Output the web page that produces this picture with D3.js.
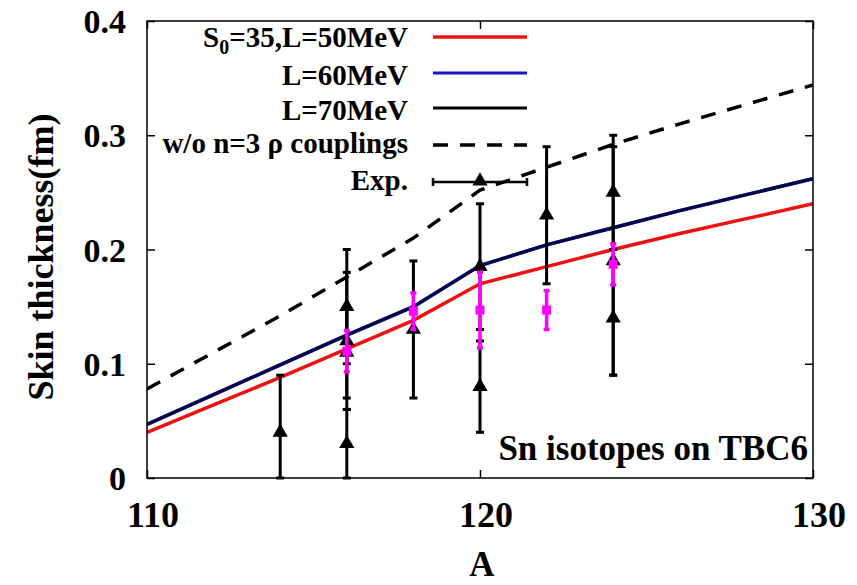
<!DOCTYPE html>
<html>
<head>
<meta charset="utf-8">
<script src="https://cdn.jsdelivr.net/npm/d3@7"></script>
<style>
  body { margin: 0; background: #fff; }
  text { font-family: "Liberation Serif", "Times New Roman", serif; font-weight: bold; }
</style>
</head>
<body>
<svg id="chart" width="857" height="585"></svg>
<script>
// model curves, A = mass number
var massA   = [110, 112, 114, 116, 118, 120, 122, 124, 126, 128, 130];
var l50     = [0.040, 0.064, 0.088, 0.113, 0.138, 0.170, 0.185, 0.200, 0.214, 0.227, 0.240];
var l60     = [0.047, 0.073, 0.099, 0.125, 0.150, 0.186, 0.204, 0.219, 0.234, 0.248, 0.262];
var l70     = [0.047, 0.073, 0.099, 0.125, 0.150, 0.186, 0.204, 0.219, 0.234, 0.248, 0.262];
var noRho   = [0.078, 0.110, 0.142, 0.176, 0.210, 0.252, 0.272, 0.292, 0.310, 0.327, 0.344];

// experiment (black triangles)
var expA    = [114, 116, 116, 116, 116, 118, 120, 120, 122, 124, 124, 124];
var expVal  = [0.040, 0.150, 0.120, 0.110, 0.030, 0.130, 0.185, 0.080, 0.230, 0.250, 0.190, 0.140];
var expErr  = [0.050, 0.050, 0.060, 0.040, 0.030, 0.060, 0.055, 0.040, 0.060, 0.050, 0.100, 0.050];

// experiment (magenta squares)
var pinkA   = [116, 118, 120, 122, 124];
var pinkVal = [0.111, 0.146, 0.147, 0.147, 0.187];
var pinkErr = [0.018, 0.016, 0.033, 0.017, 0.018];

var xTicks = [110, 120, 130];
var yTicks = [0, 0.1, 0.2, 0.3, 0.4];

var svg = d3.select("#chart");
var pLeft = 147, pRight = 813, pTop = 21, pBottom = 478;

var x = d3.scaleLinear().domain([110, 130]).range([pLeft, pRight]);
var y = d3.scaleLinear().domain([0, 0.4]).range([pBottom, pTop]);

svg.append("clipPath").attr("id", "clip")
    .append("rect").attr("x", pLeft).attr("y", pTop).attr("width", pRight - pLeft).attr("height", pBottom - pTop);
var plot = svg.append("g");

// axes with inside ticks, mirrored
svg.append("g").attr("transform", "translate(0," + pBottom + ")")
    .call(d3.axisTop(x).tickValues(xTicks).tickSize(8).tickFormat(""))
    .call(g => g.select(".domain").remove());
svg.append("g").attr("transform", "translate(0," + pTop + ")")
    .call(d3.axisBottom(x).tickValues(xTicks).tickSize(8).tickFormat(""))
    .call(g => g.select(".domain").remove());
svg.append("g").attr("transform", "translate(" + pLeft + ",0)")
    .call(d3.axisRight(y).tickValues(yTicks).tickSize(8).tickFormat(""))
    .call(g => g.select(".domain").remove());
svg.append("g").attr("transform", "translate(" + pRight + ",0)")
    .call(d3.axisLeft(y).tickValues(yTicks).tickSize(8).tickFormat(""))
    .call(g => g.select(".domain").remove());
svg.selectAll(".tick line").attr("stroke", "#000").attr("stroke-width", 1.5);

// tick labels
svg.selectAll(".xlab").data(xTicks).enter().append("text")
    .attr("x", d => x(d) + 6).attr("y", 527)
    .attr("text-anchor", "middle").attr("font-size", 36)
    .text(d => d);
svg.selectAll(".ylab").data(yTicks).enter().append("text")
    .attr("x", 126).attr("y", d => y(d) + 12)
    .attr("text-anchor", "end").attr("font-size", 34)
    .text(d => d === 0 ? "0" : d3.format(".1f")(d));

svg.append("text").attr("x", 482).attr("y", 576)
    .attr("text-anchor", "middle").attr("font-size", 35).text("A");
svg.append("text").attr("transform", "translate(53,257) rotate(-90)")
    .attr("text-anchor", "middle").attr("font-size", 36).text("Skin thickness(fm)");

// curves
var line = d3.line().x((d, i) => x(massA[i])).y(d => y(d));
var curves = plot.append("g").attr("clip-path", "url(#clip)").attr("fill", "none");
curves.append("path").attr("d", line(noRho)).attr("stroke", "#000").attr("stroke-width", 3.5)
    .attr("stroke-dasharray", "15,12");
curves.append("path").attr("d", line(l50)).attr("stroke", "#ee1111").attr("stroke-width", 3.5);
curves.append("path").attr("d", line(l60)).attr("stroke", "#1515d0").attr("stroke-width", 3.5);
curves.append("path").attr("d", line(l70)).attr("stroke", "#000022").attr("stroke-width", 3.5).attr("opacity", 0.75);

// error bars helper
function errorBars(g, xs, vals, errs, color, sw, cap) {
    var sel = g.selectAll(null).data(vals.map((v, i) => ({a: xs[i], v: v, e: errs[i]}))).enter().append("g");
    sel.append("line")
        .attr("x1", d => x(d.a)).attr("x2", d => x(d.a))
        .attr("y1", d => y(Math.max(0, d.v - d.e))).attr("y2", d => y(d.v + d.e))
        .attr("stroke", color).attr("stroke-width", sw);
    sel.append("line")
        .attr("x1", d => x(d.a) - cap).attr("x2", d => x(d.a) + cap)
        .attr("y1", d => y(d.v + d.e)).attr("y2", d => y(d.v + d.e))
        .attr("stroke", color).attr("stroke-width", sw);
    sel.append("line")
        .attr("x1", d => x(d.a) - cap).attr("x2", d => x(d.a) + cap)
        .attr("y1", d => y(Math.max(0, d.v - d.e))).attr("y2", d => y(Math.max(0, d.v - d.e)))
        .attr("stroke", color).attr("stroke-width", sw);
    return sel;
}

var tri = d3.symbol().type(d3.symbolTriangle).size(100);

var expG = plot.append("g");
errorBars(expG, expA, expVal, expErr, "#000", 3, 4)
    .append("path").attr("d", tri)
    .attr("transform", d => "translate(" + x(d.a) + "," + y(d.v) + ")")
    .attr("fill", "#000");

var pinkG = plot.append("g");
errorBars(pinkG, pinkA, pinkVal, pinkErr, "#ff00ff", 3.5, 3)
    .append("rect")
    .attr("x", d => x(d.a) - 4.5).attr("y", d => y(d.v) - 4.5)
    .attr("width", 9).attr("height", 9).attr("fill", "#ff00ff");

// frame
svg.append("rect").attr("x", pLeft).attr("y", pTop).attr("width", pRight - pLeft).attr("height", pBottom - pTop)
    .attr("fill", "none").attr("stroke", "#000").attr("stroke-width", 1.5);

// legend
var legX1 = 433, legX2 = 527, legTextX = 408;
var legRows = [
    {label: "L=60MeV", color: "#1515d0", dash: null, y: 73, base: 85},
    {label: "L=70MeV", color: "#000", dash: null, y: 108, base: 120},
    {label: "w/o n=3 \u03c1 couplings", color: "#000", dash: "15,12", y: 145, base: 153}
];
var leg = svg.append("g");
var t0 = leg.append("text").attr("x", legTextX).attr("y", 47).attr("text-anchor", "end").attr("font-size", 29);
t0.append("tspan").text("S");
t0.append("tspan").attr("font-size", 20).attr("dy", 7).text("0");
t0.append("tspan").attr("dy", -7).text("=35,L=50MeV");
leg.append("line").attr("x1", legX1).attr("x2", legX2).attr("y1", 37).attr("y2", 37)
    .attr("stroke", "#ee1111").attr("stroke-width", 3.5);
legRows.forEach(function (r) {
    leg.append("text").attr("x", legTextX).attr("y", r.base).attr("text-anchor", "end")
        .attr("font-size", 29).text(r.label);
    leg.append("line").attr("x1", legX1).attr("x2", legX2).attr("y1", r.y).attr("y2", r.y)
        .attr("stroke", r.color).attr("stroke-width", r.dash ? 3.5 : 3)
        .attr("stroke-dasharray", r.dash);
});
leg.append("text").attr("x", legTextX).attr("y", 190).attr("text-anchor", "end").attr("font-size", 29).text("Exp.");
leg.append("line").attr("x1", legX1).attr("x2", legX2).attr("y1", 182).attr("y2", 182)
    .attr("stroke", "#000").attr("stroke-width", 2.5);
[legX1, legX2].forEach(function (xx) {
    leg.append("line").attr("x1", xx).attr("x2", xx).attr("y1", 178).attr("y2", 186)
        .attr("stroke", "#000").attr("stroke-width", 2.5);
});
leg.append("path").attr("d", tri).attr("transform", "translate(" + ((legX1 + legX2) / 2) + ",181)").attr("fill", "#000");

svg.append("text").attr("x", 808).attr("y", 460).attr("text-anchor", "end")
    .attr("font-size", 35).text("Sn isotopes on TBC6");
</script>
</body>
</html>
